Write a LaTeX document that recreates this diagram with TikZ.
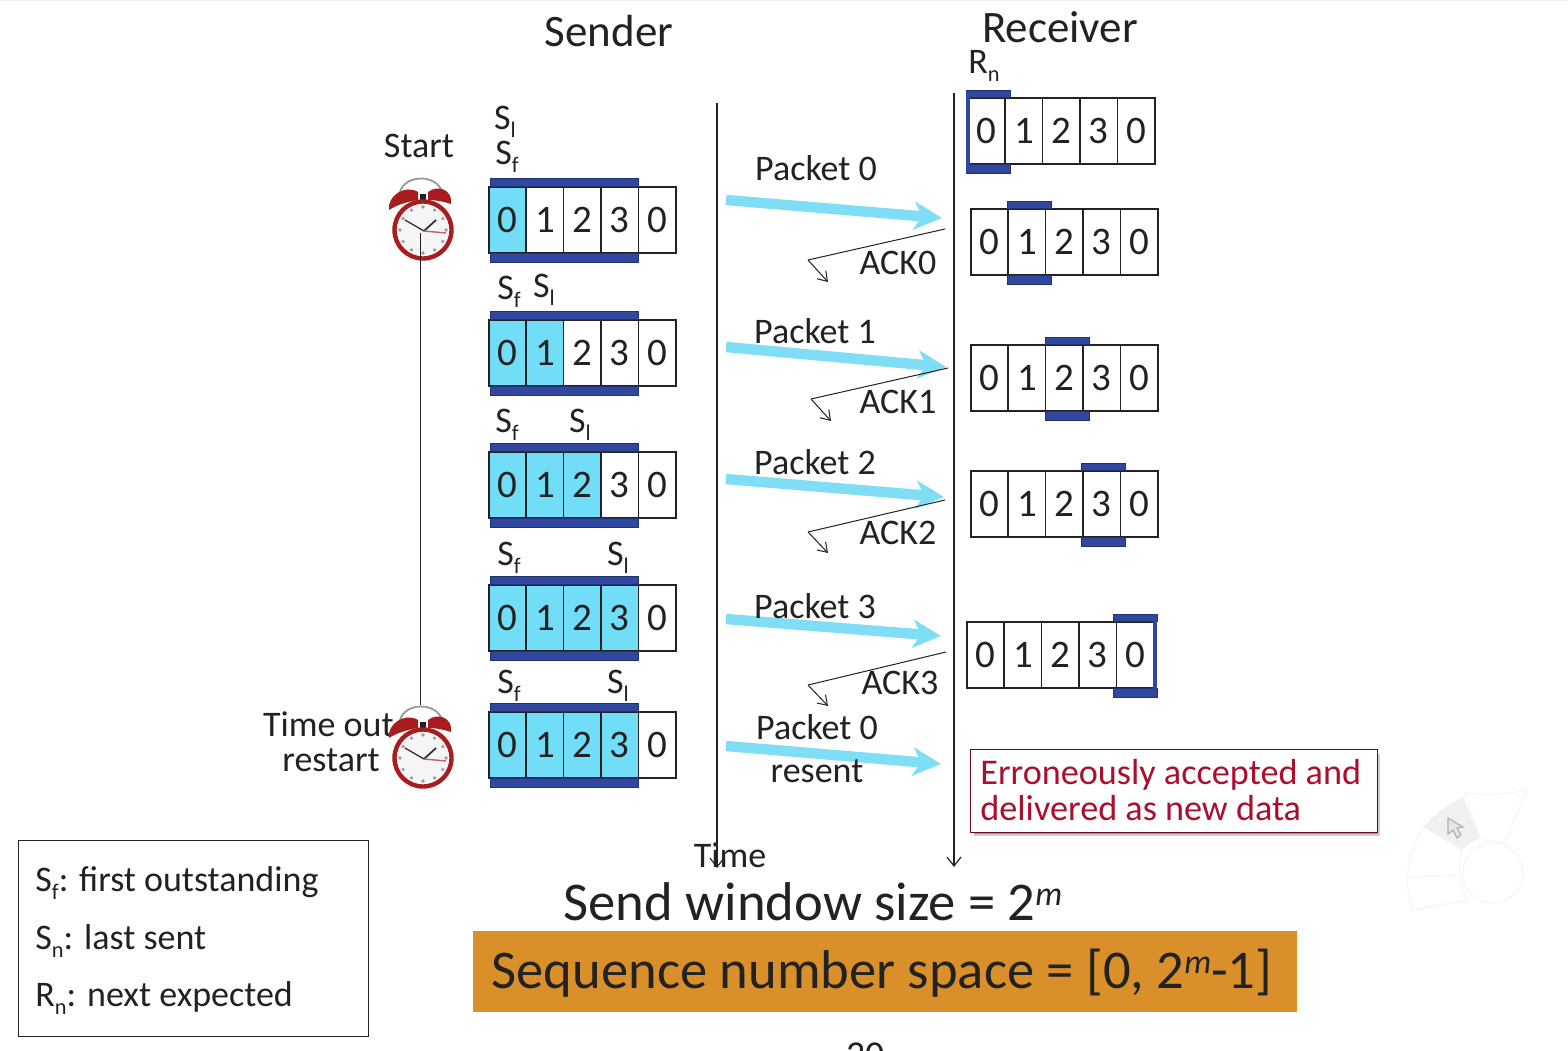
\documentclass[tikz,border=0pt]{standalone}
\usepackage{fontspec}
\setmainfont{Carlito}
\usetikzlibrary{arrows.meta,calc}
\definecolor{cyanfill}{HTML}{72DDF7}
\definecolor{barblue}{HTML}{2F479F}
\definecolor{pktcyan}{HTML}{7FDEF6}
\definecolor{orangebar}{HTML}{D9902B}
\definecolor{errred}{HTML}{A8102C}
\definecolor{clockred}{HTML}{A81C20}
\definecolor{ink}{HTML}{222222}
\newcommand\lsub[1]{\raisebox{-.5ex}{\fontsize{.62em}{1em}\selectfont #1}}
\newcommand\fs[1]{\fontsize{#1}{#1}\selectfont}
\newcommand\supm{\raisebox{7.5pt}{\fontsize{17}{17}\selectfont\itshape m}}
\tikzset{
  x=0.5pt,y=-0.5pt,
  cellbox/.style={draw=ink,line width=0.8pt,minimum width=18.75pt,minimum height=33pt,inner sep=0pt,font=\fs{19.5},text=ink,anchor=north west},
  bar/.style={draw=barblue!70!black,line width=.3pt,fill=barblue},
  lbl/.style={inner sep=0pt,font=\fs{18},text=ink},
  title/.style={inner sep=0pt,font=\fs{22.5},text=ink},
  timeline/.style={draw=ink,line width=.6pt,-{Straight Barb[length=4.5pt,width=7pt]}},
  pkt/.style={draw=pktcyan,line width=5.2pt,-{Stealth[length=14pt,width=14pt,inset=4pt]}},
  ack/.style={draw=ink,line width=.5pt},
  ackhead/.style={draw=ink,line width=.5pt,-{Straight Barb[length=4.5pt,width=6pt]}},
}
% #1 name, #2 x, #3 y, #4 number of coloured cells
\newcommand\cellrow[4]{%
  \foreach \i/\t in {0/0,1/1,2/2,3/3,4/0}{%
    \pgfmathtruncatemacro\isfill{\i<#4 ? 1 : 0}%
    \ifnum\isfill=1
      \node[cellbox,fill=cyanfill] (#1c\i) at ({#2-1+\i*37.4},#3-1) {\t};
    \else
      \node[cellbox,fill=white] (#1c\i) at ({#2-1+\i*37.4},#3-1) {\t};
    \fi
  }%
}
% sender row with bars: #1 name, #2 y, #3 coloured cells
\newcommand\sendrow[3]{%
  \cellrow{#1}{489}{#2}{#3}%
  \draw[bar] (490,#2-9) rectangle (638,#2-1);
  \draw[bar] (490,#2+66) rectangle (638,#2+75);
}
% receiver row: #1 name, #2 x, #3 y, #4 bar left
\newcommand\recvrow[4]{%
  \cellrow{#1}{#2}{#3}{0}%
  \draw[bar] (#4,#3-8) rectangle (#4+44,#3-1);
  \draw[bar] (#4,#3+66) rectangle (#4+44,#3+75);
}
% alarm clock centred at #1,#2
\newcommand\alarm[3]{%
  \begin{scope}[shift={(#1,#2)}]
    \draw[draw=black!40,line width=.9pt,fill=white] (-23,-38) .. controls (-18,-56) and (14,-56) .. (19,-38);
    \fill[clockred] (-34,-20) .. controls (-36,-34) and (-18,-46) .. (-5,-38) -- (-5,-30) .. controls (-18,-28) and (-28,-24) .. (-34,-20) -- cycle;
    \fill[clockred] (28,-26) .. controls (30,-40) and (15,-46) .. (5,-38) -- (5,-30) .. controls (14,-30) and (22,-28) .. (28,-26) -- cycle;
    \fill[ink] (-3,-36) rectangle (3,-30);
    \node[circle,draw=clockred,line width=2.2pt,fill=black!4,minimum size=28.5pt,inner sep=0pt] (#3) at (0,0) {};
    \foreach \a in {0,30,...,330}{\fill[black!40] ({23*cos(\a)},{23*sin(\a)}) circle (1.8);}
    \draw[ink,line width=.6pt] (1,1) -- (-18,-10);
    \draw[ink,line width=.8pt] (1,1) -- (13,-10);
    \draw[clockred!70,line width=.7pt] (1,1) -- (23,3);
  \end{scope}
}
\begin{document}
\begin{tikzpicture}
\useasboundingbox (0,0) rectangle (1568,1050);
\fill[white] (0,0) rectangle (1568,1050);
\fill[blue!6] (0,0) rectangle (1568,1);

% titles
\node[title] (sender) at (609,31) {Sender};
\node[title] (receiver) at (1060,27) {Receiver};
\node[lbl] (rn) at (984,66) {R\lsub{n}};

% sender rows
\sendrow{a}{187}{1}
\sendrow{b}{320}{2}
\sendrow{c}{452}{3}
\sendrow{d}{585}{4}
\sendrow{e}{712}{4}

% sender pointer labels
\node[lbl] (sl0) at (505,122) {S\lsub{l}};
\node[lbl] (sf0) at (507,157) {S\lsub{f}};
\node[lbl] (sf1) at (509,292) {S\lsub{f}};
\node[lbl] (sl1) at (544,290) {S\lsub{l}};
\node[lbl] (sf2) at (507,425) {S\lsub{f}};
\node[lbl] (sl2) at (580,425) {S\lsub{l}};
\node[lbl] (sf3) at (509,558) {S\lsub{f}};
\node[lbl] (sl3) at (618,558) {S\lsub{l}};
\node[lbl] (sf4) at (509,686) {S\lsub{f}};
\node[lbl] (sl4) at (618,686) {S\lsub{l}};

% receiver rows
\recvrow{r}{968}{98}{966}
\fill[barblue] (965.5,91) rectangle (970,173);
\recvrow{s}{971}{209}{1007}
\recvrow{t}{971}{345}{1045}
\recvrow{u}{971}{471}{1081}
\recvrow{v}{967}{622}{1113}
\fill[barblue] (1153,614) rectangle (1157,697);

% time lines
\coordinate (st) at (717,103);
\coordinate (se) at (717,868);
\coordinate (rt) at (954,93);
\coordinate (re) at (954,867);
\draw[timeline] (st) -- (se);
\draw[timeline] (rt) -- (re);

% clocks
\node[lbl] (start) at (419,146) {Start};
\node[lbl,anchor=east,align=right] (timeout) at (394,724) {Time out};
\node[lbl,anchor=east] (restart) at (380,760) {restart};
\alarm{423}{230}{clockA}
\alarm{423}{758}{clockB}
\coordinate (clkA) at (420,233);
\coordinate (clkB) at (420,705);
\draw[draw=ink,line width=.5pt] (clkA) -- (clkB);

% packets
\coordinate (p0a) at (726,200); \coordinate (p0b) at (942,218);
\coordinate (p1a) at (726,347); \coordinate (p1b) at (946,367);
\coordinate (p2a) at (726,479); \coordinate (p2b) at (944,497);
\coordinate (p3a) at (726,619); \coordinate (p3b) at (941,636);
\coordinate (p4a) at (726,746); \coordinate (p4b) at (941,764);
\foreach \n in {0,1,2,3,4}{\draw[pkt] (p\n a) -- (p\n b);}
\node[lbl] (pl0) at (816,168) {Packet 0};
\node[lbl] (pl1) at (815,331) {Packet 1};
\node[lbl] (pl2) at (815,462) {Packet 2};
\node[lbl] (pl3) at (815,606) {Packet 3};
\node[lbl] (pl4) at (817,727) {Packet 0};
\node[lbl] (pl5) at (817,771) {resent};

% acks
\coordinate (a0a) at (945,229); \coordinate (a0b) at (808,260); \coordinate (a0c) at (828,282);
\coordinate (a1a) at (948,368); \coordinate (a1b) at (811,399); \coordinate (a1c) at (831,421);
\coordinate (a2a) at (945,500); \coordinate (a2b) at (808,532); \coordinate (a2c) at (828,553);
\coordinate (a3a) at (946,652); \coordinate (a3b) at (808,685); \coordinate (a3c) at (828,706);
\foreach \n in {0,1,2,3}{\draw[ack] (a\n a) -- (a\n b); \draw[ackhead] (a\n b) -- (a\n c);}
\node[lbl] (al0) at (898,263) {ACK0};
\node[lbl] (al1) at (898,402) {ACK1};
\node[lbl] (al2) at (898,533) {ACK2};
\node[lbl] (al3) at (900,683) {ACK3};

% time label
\node[lbl] (time) at (730,855) {Time};

% error box
\fill[black!20] (974,754) rectangle (1380,836);
\fill[black!40] (974,754) rectangle (1378,834);
\node[draw=errred!60!black,line width=.5pt,fill=white,minimum width=203.5pt,minimum height=41.5pt,inner sep=0pt,anchor=north west] (errbox) at (970,749) {};
\node[inner sep=0pt,font=\fs{18.1},text=errred,anchor=west,align=left] (errtext) at (980,790) {Erroneously accepted and\\delivered as new data};

% bottom formulae
\node[inner sep=0pt,font=\fs{27.3},text=ink] (swin) at (813,902) {Send window size = 2\supm};
\node[fill=orangebar,minimum width=412pt,minimum height=40.5pt,inner sep=0pt,anchor=north west] (seqbox) at (473,931) {};
\node[inner sep=0pt,font=\fs{27.3},text=ink] (seq) at (882,973) {Sequence number space = [0, 2\supm-1]};

% legend
\node[draw=ink,line width=.7pt,fill=white,minimum width=175pt,minimum height=98pt,inner sep=0pt,anchor=north west] (legend) at (18,840) {};
\node[lbl,anchor=west] (l1) at (35,883) {S\lsub{f}: first outstanding};
\node[lbl,anchor=west] (l2) at (35,941) {S\lsub{n}: last sent};
\node[lbl,anchor=west] (l3) at (35,998) {R\lsub{n}: next expected};

% cut-off page number
\begin{scope}
\clip (800,1042) rectangle (900,1050);
\node[inner sep=0pt,font=\fs{19},text=ink] (pg) at (865,1055) {30};
\end{scope}

% faint radial menu
\begin{scope}[line width=.6pt]
\fill[black!6] (1463,797) to[bend right=10] (1423,827) -- (1462,850) to[bend left=10] (1480,838) -- cycle;
\draw[black!3] (1465,793) to[bend right=8] (1527,790) -- (1505,842) to[bend left=10] (1480,838) -- cycle;
\draw[black!3] (1423,827) to[bend right=10] (1407,877) -- (1460,875) to[bend left=8] (1462,850) -- cycle;
\draw[black!3] (1407,877) to[bend right=8] (1413,910) -- (1468,900) to[bend left=8] (1460,875) -- cycle;
\draw[black!3] (1493,873) circle (30);
\filldraw[draw=black!30,fill=black!10] (1448,818) -- (1448,834) -- (1453,830) -- (1457,838) -- (1461,835) -- (1457,828) -- (1463,827) -- cycle;
\end{scope}
\end{tikzpicture}
\end{document}
